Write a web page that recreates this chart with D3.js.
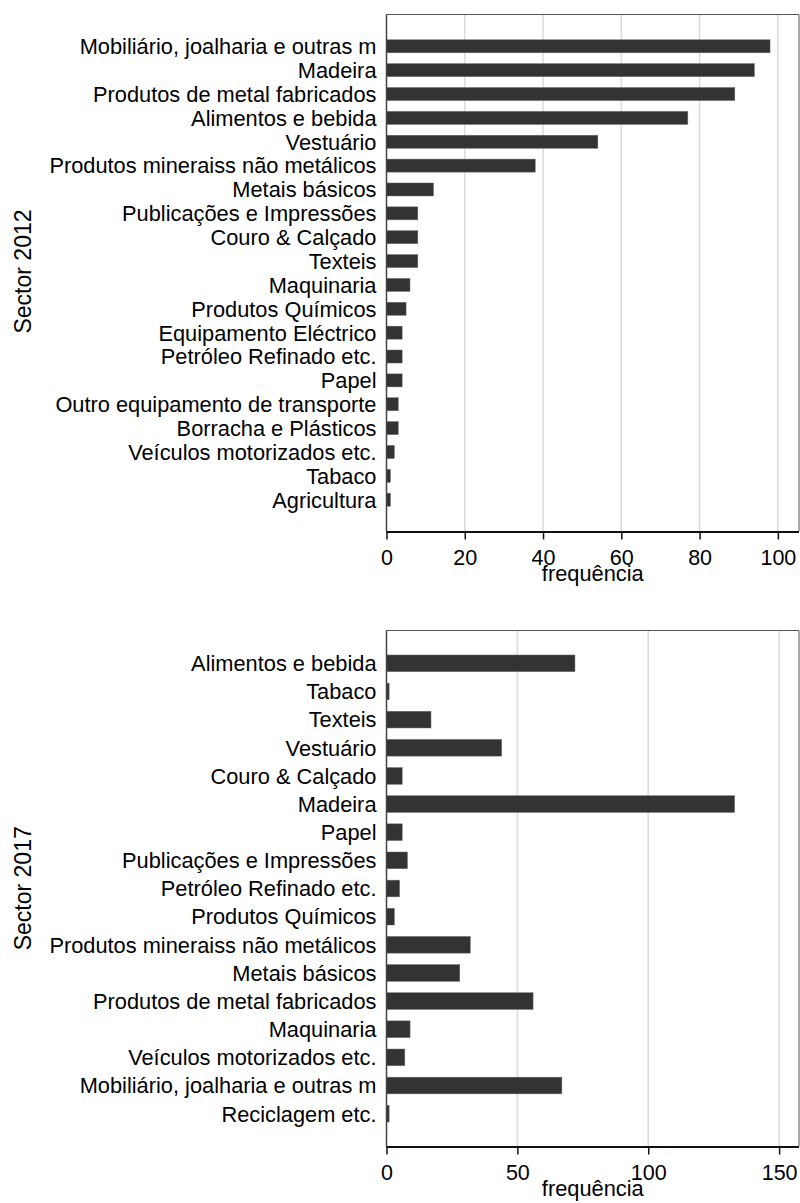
<!DOCTYPE html>
<html>
<head>
<meta charset="utf-8">
<script src="https://cdn.jsdelivr.net/npm/d3@7"></script>
<style>
  html, body { margin: 0; padding: 0; background: #fff; }
  svg text { font-family: "Liberation Sans", Arial, sans-serif; fill: #000; }
</style>
</head>
<body>
<svg id="chart" width="800" height="1203"></svg>
<script>
// ---- Data ----
const categories2012 = [
  "Mobiliário, joalharia e outras m",
  "Madeira",
  "Produtos de metal fabricados",
  "Alimentos e bebida",
  "Vestuário",
  "Produtos mineraiss não metálicos",
  "Metais básicos",
  "Publicações e Impressões",
  "Couro & Calçado",
  "Texteis",
  "Maquinaria",
  "Produtos Químicos",
  "Equipamento Eléctrico",
  "Petróleo Refinado etc.",
  "Papel",
  "Outro equipamento de transporte",
  "Borracha e Plásticos",
  "Veículos motorizados etc.",
  "Tabaco",
  "Agricultura"
];
const values2012 = [98, 94, 89, 77, 54, 38, 12, 8, 8, 8, 6, 5, 4, 4, 4, 3, 3, 2, 1, 1];
const ticks2012 = [0, 20, 40, 60, 80, 100];

const categories2017 = [
  "Alimentos e bebida",
  "Tabaco",
  "Texteis",
  "Vestuário",
  "Couro & Calçado",
  "Madeira",
  "Papel",
  "Publicações e Impressões",
  "Petróleo Refinado etc.",
  "Produtos Químicos",
  "Produtos mineraiss não metálicos",
  "Metais básicos",
  "Produtos de metal fabricados",
  "Maquinaria",
  "Veículos motorizados etc.",
  "Mobiliário, joalharia e outras m",
  "Reciclagem etc."
];
const values2017 = [72, 1, 17, 44, 6, 133, 6, 8, 5, 3, 32, 28, 56, 9, 7, 67, 1];
const ticks2017 = [0, 50, 100, 150];

const yTitles = ["Sector 2012", "Sector 2017"];
const xTitle = "frequência";

// ---- Drawing ----
const svg = d3.select("#chart");

function panel(cfg) {
  const { cats, vals, ticks, xMax, left, right, top, bottom, padInner, padOuter, yTitle, yTitleCenter } = cfg;
  const g = svg.append("g");
  const x = d3.scaleLinear().domain([0, xMax]).range([left, right]);
  const y = d3.scaleBand().domain(cats).range([top, bottom]).paddingInner(padInner).paddingOuter(padOuter);

  // gridlines
  g.append("g").selectAll("line").data(ticks.filter(t => t > 0)).join("line")
    .attr("x1", d => x(d)).attr("x2", d => x(d))
    .attr("y1", top).attr("y2", bottom)
    .attr("stroke", "#dcdcdc").attr("stroke-width", 1.6);

  // frame: top and right
  g.append("line").attr("x1", left).attr("x2", right).attr("y1", top).attr("y2", top)
    .attr("stroke", "#555").attr("stroke-width", 1);
  g.append("line").attr("x1", right).attr("x2", right).attr("y1", top).attr("y2", bottom)
    .attr("stroke", "#555").attr("stroke-width", 1);

  // bars
  g.append("g").selectAll("rect").data(cats.map((c, i) => ({ c, v: vals[i] }))).join("rect")
    .attr("x", x(0))
    .attr("y", d => y(d.c))
    .attr("width", d => x(d.v) - x(0))
    .attr("height", y.bandwidth())
    .attr("fill", "#333333")
    .attr("stroke", "#6a6a6a").attr("stroke-width", 0.5);

  // left axis line
  g.append("line").attr("x1", left).attr("x2", left).attr("y1", top).attr("y2", bottom)
    .attr("stroke", "#444").attr("stroke-width", 1.5);

  // category labels
  g.append("g").selectAll("text").data(cats).join("text")
    .attr("x", left - 10)
    .attr("y", d => y(d) + y.bandwidth() / 2)
    .attr("dy", "0.36em")
    .attr("text-anchor", "end")
    .attr("font-size", "21.8px")
    .text(d => d);

  // x axis
  const xAxis = d3.axisBottom(x).tickValues(ticks).tickSize(8).tickPadding(10).tickFormat(d3.format("d"));
  const ax = g.append("g").attr("transform", `translate(0,${bottom})`).call(xAxis);
  ax.select(".domain").attr("stroke", "#111").attr("stroke-width", 2).attr("d", `M${left},0.5H${right}`);
  ax.selectAll(".tick line").attr("stroke", "#111").attr("stroke-width", 1.5);
  ax.selectAll(".tick text").attr("font-size", "21.5px").attr("font-family", "Liberation Sans, Arial, sans-serif").attr("fill", "#000");

  // x title
  g.append("text").attr("x", (left + right) / 2).attr("y", bottom + 49)
    .attr("text-anchor", "middle").attr("font-size", "21.8px").text(xTitle);

  // y title
  g.append("text")
    .attr("transform", `translate(31,${yTitleCenter}) rotate(-90)`)
    .attr("text-anchor", "middle").attr("font-size", "23px").text(yTitle);
}

panel({
  cats: categories2012, vals: values2012, ticks: ticks2012, xMax: 105.4,
  left: 386.5, right: 799, top: 14.5, bottom: 531.5,
  padInner: 0.455, padOuter: 1.06, yTitle: yTitles[0], yTitleCenter: 271.5
});
panel({
  cats: categories2017, vals: values2017, ticks: ticks2017, xMax: 157.6,
  left: 386.5, right: 799, top: 630.5, bottom: 1146.5,
  padInner: 0.407, padOuter: 0.87, yTitle: yTitles[1], yTitleCenter: 888.3
});
</script>
</body>
</html>
